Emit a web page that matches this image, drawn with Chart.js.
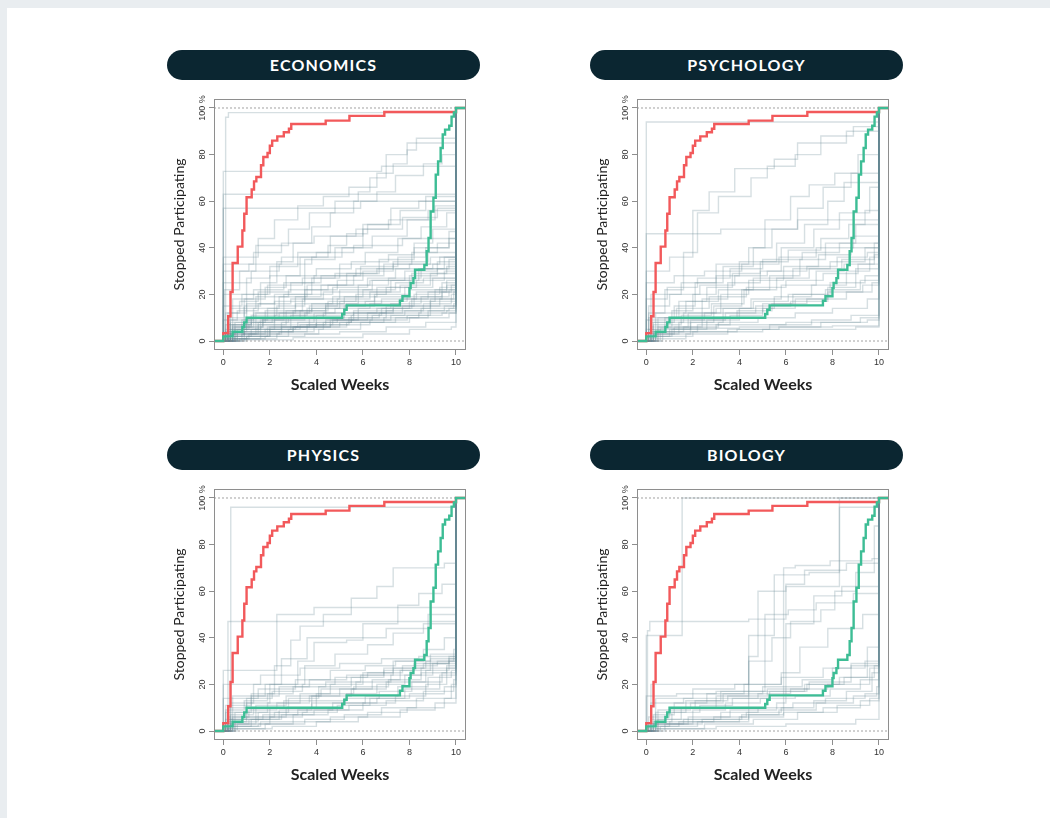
<!DOCTYPE html>
<html>
<head>
<meta charset="utf-8">
<script src="https://cdn.jsdelivr.net/npm/chart.js@4.4.0/dist/chart.umd.min.js"></script>
<style>
  html, body { margin: 0; padding: 0; width: 1050px; height: 818px; overflow: hidden; background: #e9edf0; }
  #card { position: absolute; left: 7px; top: 8px; width: 1043px; height: 810px; background: #fff; }
  .panel { position: absolute; width: 330px; height: 350px; }
  .pill { position: absolute; left: 7px; top: 0; width: 313px; height: 30px; border-radius: 15px;
          background: #0b2631; color: #fff; font: 700 16px Lato, sans-serif; letter-spacing: 1.2px;
          text-align: center; line-height: 30px; }
  .panel canvas { position: absolute; left: 0; top: 38px; }
</style>
</head>
<body>
<div id="card"></div>
<div id="charts"></div>
<script>
// Titres des panneaux
const subjects = ['ECONOMICS', 'PSYCHOLOGY', 'PHYSICS', 'BIOLOGY'];
const panelPos = [[160, 50], [583, 50], [160, 440], [583, 440]];

// Axes
const xTicks = [0, 2, 4, 6, 8, 10];
const yTicks = [0, 20, 40, 60, 80, 100];

// Courbe rouge (identique dans les 4 panneaux)
const redWeeks = [-0.4, 0, 0.21, 0.31, 0.4, 0.62, 0.82, 0.9, 1.0, 1.22, 1.32, 1.42, 1.62, 1.72, 1.9, 2.0, 2.1, 2.32, 2.6, 2.82, 2.92, 4.4, 5.42, 6.92, 10, 10.43];
const redPct = [0, 3.4, 10.6, 21, 33.5, 40.5, 47.4, 54.6, 61.7, 65, 68.5, 70.4, 75.4, 79, 80.7, 83.8, 86, 87.8, 89.6, 91.1, 93.1, 94.6, 96.6, 98.3, 100, 100];

// Courbe verte
const greenWeeks = [-0.4, 0, 0.4, 0.82, 0.9, 1.0, 5.11, 5.2, 5.3, 7.59, 7.7, 8.0, 8.05, 8.17, 8.24, 8.64, 8.74, 8.82, 8.91, 9.03, 9.13, 9.23, 9.34, 9.43, 9.53, 9.71, 9.81, 9.91, 10, 10.43];
const greenPct = [0, 2, 4, 6, 8, 10, 11.6, 13.4, 15.3, 17.3, 19.2, 22.7, 24.9, 27, 30.6, 32.6, 38.5, 44.2, 55.6, 61.5, 71.4, 77.1, 82.8, 88.6, 90.7, 92.4, 96.3, 98.1, 100, 100];

// Lignes grises : [semaine, %, semaine, %, ...] (chaque saut)
const econLines = [
  [0.1,96, 0.22,98],
  [0,63],
  [0,57, 5.9,60],
  [0,36, 1.5,44, 2.2,52, 3.2,58, 4.3,62, 5.4,66, 6.6,72, 7.3,76, 7.9,82, 8.3,87],
  [0.05,22, 0.7,30, 1.4,41, 2.8,48, 3.7,55, 4.8,60, 5.8,64, 6.3,70, 7.0,80, 7.9,85],
  [0.3,8, 0.9,15, 1.6,25, 2.3,34, 3.0,42, 3.8,49, 4.6,55, 5.6,60, 6.6,64, 7.4,71, 8.6,76, 9.4,80],
  [0,72.8, 6.8,75],
  [0.2,12, 1.0,20, 2.0,28, 3.3,36, 4.5,41, 5.3,46, 6.2,50, 7.6,56, 8.7,62],
  [0.4,6, 1.3,12, 2.6,20, 3.8,27, 5.0,33, 6.1,38, 7.5,44, 8.5,49, 9.6,55],
  [0.1,4, 0.8,9, 1.9,14, 3.1,19, 4.2,24, 5.6,28, 6.9,33, 8.1,38, 9.2,42],
  [0.6,3, 1.5,7, 2.9,11, 4.4,16, 5.8,21, 7.2,26, 8.4,31, 9.5,36],
  [0.2,2, 1.2,5, 2.5,8, 3.9,12, 5.2,15, 6.5,19, 7.8,23, 9.0,27],
  [0.3,5, 1.1,10, 2.2,17, 3.5,22, 4.9,26, 6.0,30, 7.3,34, 8.8,38],
  [0.1,1, 1.6,4, 3.0,6, 4.6,9, 6.2,12, 7.7,15, 9.3,18],
  [0.5,2, 2.0,4, 3.6,7, 5.4,10, 7.0,13, 8.6,16, 9.8,20],
  [0.2,10, 0.9,18, 1.8,23, 2.7,28, 4.0,31, 5.5,34, 7.1,37, 8.2,40, 9.7,47],
  [0,25, 1.2,30, 2.4,33, 3.8,36, 5.1,40, 6.4,45, 7.9,52, 9.1,58],
  [0.3,3, 0.9,6, 1.7,9, 2.6,12, 3.7,15, 4.9,18, 6.3,21, 7.6,24, 8.9,29],
  [0.7,1, 2.3,3, 4.1,5, 5.9,8, 7.4,10, 8.8,13, 9.7,14],
  [0.1,7, 1.4,12, 3.1,16, 4.7,19, 6.0,22, 7.4,25, 8.6,27],
  [0,15, 0.8,20, 1.9,24, 3.4,27, 4.8,29, 6.6,31, 8.0,33, 9.3,36],
  [0.4,4, 1.0,8, 2.1,10, 3.3,13, 4.5,17, 5.7,20, 7.0,23, 8.3,26, 9.5,30],
  [0.2,6, 1.7,10, 3.0,13, 4.4,15, 6.1,17, 7.9,19, 9.4,21],
  [1.0,2, 2.8,5, 4.3,8, 5.5,11, 6.8,14, 8.0,17, 9.1,22],
  [0.3,9, 1.3,14, 2.4,19, 3.6,24, 5.3,29, 6.7,35, 8.2,42, 9.0,48],
  [0.1,3, 0.6,5, 1.4,7, 2.7,9, 4.0,11, 5.6,13, 7.3,15, 8.9,17],
  [0,30, 1.1,33, 2.5,36, 4.0,38, 5.6,41, 7.7,44],
  [0.5,8, 1.8,13, 3.4,18, 5.0,22, 6.4,26, 7.8,30, 9.2,34],
  [0.2,1, 1.1,3, 2.4,4, 3.9,6, 5.3,8, 6.9,10, 8.4,12, 9.6,13],
  [0.1,12, 0.7,17, 1.5,21, 2.9,25, 4.2,28, 5.9,32, 7.5,36, 8.7,40, 9.7,44],
  [0.9,5, 2.2,9, 3.5,12, 4.8,14, 6.3,16, 7.6,18, 8.8,21, 9.8,24],
  [0.3,2, 1.9,6, 3.7,10, 5.2,12, 6.6,14, 8.1,18, 9.4,25],
  [0.2,5, 1.5,8, 2.8,10, 4.3,12, 5.8,14, 7.2,16, 8.5,19, 9.7,22],
  [0.4,18, 1.3,22, 2.6,25, 3.9,28, 5.7,31, 7.3,33, 8.9,36],
  [0,20, 1.0,27, 2.0,32, 3.2,38, 4.6,45, 6.0,50, 7.2,57, 8.4,60],
  [0.6,4, 1.6,6, 3.2,8, 4.9,10, 6.7,12, 8.5,14, 9.9,16],
  [0.1,2, 0.9,4, 2.0,5, 3.3,7, 4.7,9, 6.4,11, 7.8,13, 9.5,15],
  [0.2,7, 1.2,11, 2.3,15, 3.5,20, 4.7,23, 6.2,27, 7.4,31, 9.0,33],
  [0.8,3, 2.5,6, 4.0,9, 5.6,12, 7.0,15, 8.2,20, 9.3,23],
  [0.3,14, 1.4,19, 2.8,22, 4.5,24, 6.3,26, 8.1,29, 9.6,32],
  [0.05,0.5, 3.0,1.5, 6.0,3, 8.0,5, 9.8,6],
  [0.4,1, 1.8,2, 3.5,3, 5.0,4, 7.0,6, 8.7,8],
  [0.1,5, 1.0,16, 2.2,20, 3.5,35, 4.8,40, 6.0,48, 7.7,53, 9.2,57],
  [0.2,4, 2.0,6, 5.0,8, 8.0,10, 9.7,12],
  [0.1,3, 0.5,6, 1.2,8, 2.2,11, 3.6,14, 5.0,17, 6.5,20, 8.0,22, 9.6,26],
  [0.3,1, 1.0,2, 2.0,4, 3.0,6, 4.0,8, 5.5,9, 7.2,11, 8.9,15],
  [0,9, 0.6,13, 1.5,16, 2.9,18, 4.3,21, 5.8,24, 7.1,27, 8.5,31, 9.7,35],
  [0.2,3, 1.4,5, 2.9,7, 4.4,9, 5.8,12, 7.3,14, 8.9,18, 9.9,21],
  [0.5,5, 1.6,9, 2.7,13, 3.8,16, 5.2,19, 6.6,23, 8.0,28, 9.2,31],
  [0.1,2, 0.8,3, 1.8,5, 3.1,6, 4.6,7, 6.3,9, 7.9,11, 9.4,12],
  [0,33, 1.3,38, 2.5,42, 3.9,45, 5.7,48, 7.1,52, 8.8,56],
  [0.4,7, 1.2,10, 2.4,12, 3.8,14, 5.3,16, 6.8,18, 8.3,21, 9.6,24]
];

const psychLines = [
  [0,94],
  [0,46, 3.2,48, 6.5,52],
  [0,30, 1.0,36, 2.0,56, 2.7,64, 3.8,74, 5.5,78, 6.5,85, 8.6,90],
  [0.1,12, 0.8,22, 1.6,38, 2.2,55, 3.1,62, 4.5,70, 5.2,75, 6.4,80, 7.5,88, 8.9,92],
  [0.2,8, 1.2,15, 2.1,25, 3.3,32, 4.6,40, 5.1,52, 6.2,62, 7.0,67, 8.1,72, 9.1,80],
  [0,5, 0.8,10, 2.4,18, 3.5,25, 4.9,30, 5.8,40, 7.2,48, 8.3,55, 9.6,66],
  [0.3,3, 1.4,8, 2.9,15, 4.1,22, 5.3,28, 6.6,35, 7.7,42, 9.0,50],
  [0.1,2, 1.1,5, 2.6,9, 4.0,14, 5.5,19, 7.1,24, 8.6,30, 9.6,36],
  [0.5,6, 1.8,12, 3.2,20, 4.4,26, 5.9,32, 7.4,37, 8.8,40],
  [0,18, 0.9,23, 2.2,27, 3.6,31, 5.0,35, 6.7,38, 8.3,42],
  [0.2,4, 1.6,6, 3.1,8, 4.8,10, 6.4,12, 8.0,14, 9.5,18],
  [0.4,2, 2.0,4, 3.9,5, 5.7,6, 7.5,8, 9.2,10],
  [0.1,10, 1.3,14, 2.7,19, 4.3,23, 6.0,26, 7.6,29, 9.1,33],
  [0.6,5, 1.9,9, 3.4,12, 5.0,16, 6.3,20, 7.9,25, 9.4,28],
  [0,25, 1.2,28, 2.5,30, 4.1,33, 5.7,36, 7.3,40, 8.9,45],
  [0.3,7, 1.5,11, 2.8,16, 4.2,22, 5.6,27, 7.0,31, 8.4,35, 9.8,42],
  [0.2,1, 1.7,3, 3.5,5, 5.3,7, 7.1,9, 8.8,11],
  [0.1,15, 1.0,20, 2.3,24, 3.8,28, 5.2,30, 6.9,32, 8.2,36, 9.5,38],
  [0.4,3, 1.2,6, 2.4,10, 3.9,13, 5.4,16, 6.9,18, 8.6,21, 9.7,25],
  [0,9, 2.5,12, 4.7,15, 6.2,17, 7.8,21, 9.3,24],
  [0.7,4, 2.2,7, 3.6,11, 5.0,14, 6.4,18, 7.8,23, 9.0,31],
  [0.2,6, 1.1,13, 2.0,20, 3.0,28, 4.0,34, 5.6,42, 6.8,50, 7.8,60, 8.5,68],
  [0.1,5, 0.6,5.5, 4.0,6, 8.0,6.5],
  [0.3,4, 5.0,5, 9.0,6],
  [0.2,2, 1.0,5, 3.0,7, 6.0,8, 9.5,9],
  [0.5,10, 1.4,17, 2.6,23, 3.7,29, 4.9,34, 6.1,39, 7.5,44, 8.7,50, 9.4,56],
  [0.1,3, 1.9,8, 3.3,14, 4.5,18, 5.8,24, 7.3,30, 8.5,33, 9.8,37],
  [0.2,20, 1.5,25, 3.0,33, 4.4,40, 5.4,48, 6.5,57, 7.6,66, 8.8,72],
  [0.3,8, 1.6,12, 3.0,14, 4.6,17, 6.1,20, 7.7,22, 9.2,26],
  [0.4,12, 1.7,17, 3.1,22, 4.6,27, 6.3,31, 7.9,34, 9.4,40]
];

const physLines = [
  [0.32,96],
  [0.2,47],
  [0,26, 2.3,50, 3.9,53],
  [0.1,8, 1.2,16, 2.2,28, 2.9,39, 3.3,45, 4.3,50, 5.5,57, 6.6,62, 7.3,70, 9.5,72],
  [0.2,5, 1.0,12, 2.0,20, 3.2,30, 3.9,38, 5.3,39, 6.0,46, 7.5,54, 8.4,59, 9.4,63],
  [0.3,12, 1.3,20, 2.5,31, 3.6,40, 4.9,40, 7.0,44, 8.8,50],
  [0.1,3, 1.4,6, 2.7,10, 4.0,13, 5.3,16, 6.6,20, 7.8,24, 9.0,29],
  [0.4,2, 1.6,4, 3.0,7, 4.5,9, 6.0,12, 7.4,15, 8.7,20, 9.6,27],
  [0.2,6, 1.1,9, 2.3,12, 3.7,15, 5.0,18, 6.4,22, 7.6,26, 8.9,31],
  [0.1,1, 1.8,3, 3.5,5, 5.2,7, 6.8,10, 8.3,14, 9.8,20],
  [0.5,4, 1.5,8, 2.8,14, 4.1,19, 5.5,23, 6.9,26, 8.2,29, 9.7,32],
  [0.2,10, 1.0,14, 2.1,17, 3.4,20, 4.8,23, 6.2,25, 7.7,28, 9.2,30],
  [0.3,7, 1.3,10, 2.6,13, 4.0,16, 5.6,19, 7.1,22, 8.5,25, 9.6,28],
  [0.1,2, 1.2,5, 2.5,7, 3.9,9, 5.4,11, 7.0,13, 8.6,17, 9.9,22],
  [0.6,3, 2.0,6, 3.4,8, 4.9,11, 6.3,14, 7.8,18, 9.3,24],
  [0,14, 1.5,18, 3.1,22, 4.6,26, 6.1,28, 7.4,30, 8.9,33],
  [0.3,5, 1.7,7, 3.2,9, 4.7,12, 6.1,15, 7.5,19, 8.8,23, 9.8,26],
  [0.2,4, 1.0,6, 2.2,8, 3.6,10, 5.1,12, 6.6,14, 8.0,16, 9.5,19],
  [0.1,9, 0.9,13, 1.9,16, 3.0,19, 4.4,21, 5.9,24, 7.3,27, 8.7,30, 9.9,35],
  [0.4,6, 1.4,11, 2.7,15, 4.2,18, 5.7,21, 7.2,24, 8.5,27],
  [0.2,1, 2.1,2, 4.0,4, 5.8,6, 7.6,9, 9.1,12],
  [0,20, 1.6,24, 3.3,27, 5.0,29, 6.8,31, 8.4,32],
  [0.5,8, 1.9,12, 3.3,16, 4.6,20, 6.0,25, 7.3,30, 8.6,35, 9.5,40],
  [0.3,3, 1.1,5, 2.4,9, 3.8,12, 5.2,14, 6.7,17, 8.1,21, 9.4,25],
  [0.1,11, 1.2,15, 2.4,19, 3.7,22, 5.3,24, 6.9,27, 8.6,29, 9.7,31],
  [0.2,2, 1.5,3, 3.0,4, 4.6,6, 6.2,8, 7.9,10, 9.5,14],
  [0.4,15, 1.8,20, 3.5,28, 4.8,33, 6.2,37, 7.3,42, 8.6,46],
  [0.1,5, 2.0,10, 3.8,15, 5.5,18, 7.0,21, 8.7,26, 9.7,30]
];

const bioLines = [
  [0,41, 1.54,100],
  [0.05,43, 0.15,47, 4.4,48, 6.0,62, 8.3,100],
  [0.2,5, 1.5,10, 3.0,15, 4.4,32, 4.8,60, 6.0,63, 6.8,69, 8.6,72],
  [0.4,8, 1.7,13, 3.2,17, 5.1,50, 6.1,52, 7.3,55, 8.9,59],
  [0.3,3, 1.8,6, 3.6,9, 5.6,12, 6.0,46, 7.2,58, 8.4,62],
  [0.1,2, 1.4,4, 2.9,6, 4.3,8, 5.8,10, 7.2,13, 8.6,17, 9.7,25],
  [0.5,5, 2.0,9, 3.4,12, 4.9,14, 6.4,15, 7.9,18, 9.2,22],
  [0.2,1, 2.5,3, 4.6,5, 6.5,8, 8.2,11, 9.6,14],
  [0,15, 1.3,16, 3.0,17, 5.0,19, 6.7,22, 8.0,27, 9.4,30],
  [0.3,4, 1.1,8, 2.3,11, 3.7,14, 5.3,17, 6.8,20, 8.5,23, 9.8,28],
  [0.6,2, 2.2,4, 4.0,6, 5.9,8, 7.6,10, 9.2,13],
  [0.1,6, 1.0,10, 2.1,13, 3.5,15, 5.2,18, 7.0,21, 8.8,28],
  [0.4,1, 3.0,2, 6.0,3, 9.0,5],
  [0.2,12, 1.6,14, 3.3,16, 5.0,17, 6.9,20, 8.3,23, 9.5,36],
  [0.3,7, 1.2,12, 2.6,16, 4.2,20, 5.8,25, 6.6,36, 7.8,44, 9.3,50],
  [0.8,3, 2.4,5, 4.1,7, 5.7,9, 7.3,12, 8.9,15, 9.9,19],
  [0.1,3, 1.6,5, 3.2,8, 4.8,10, 6.3,12, 7.7,14, 9.4,16],
  [0.2,20, 4.4,30, 5.4,40, 6.2,47, 7.5,52, 8.1,60, 9.0,68, 9.8,88],
  [0.4,14, 2.0,18, 3.8,20, 5.8,23, 7.6,27, 8.8,29],
  [0.5,9, 1.9,12, 3.3,14, 4.8,16, 6.2,18, 7.8,20, 9.6,27],
  [0.1,3, 2.0,5, 4.4,7, 5.9,70, 6.4,71, 7.9,73, 9.7,74],
  [0.2,2, 1.0,4, 4.4,41, 5.5,67, 7.0,68, 8.3,96]
];

const panelLines = [econLines, psychLines, physLines, bioLines];

// Limites des axes (comme dans le graphique d'origine)
const X_MIN = -0.4, X_MAX = 10.43;
const Y_MIN = -3.86, Y_MAX = 103.86;

function toPoints(xs, ys) {
  return xs.map((x, i) => ({ x: x, y: ys[i] }));
}

// Chaque ligne grise part de 0 et finit à 100 % à la semaine 10
function grayPoints(flat) {
  const pts = [{ x: 0, y: 0 }];
  for (let i = 0; i < flat.length; i += 2) pts.push({ x: flat[i], y: flat[i + 1] });
  pts.push({ x: 10, y: 100 }, { x: X_MAX, y: 100 });
  return pts;
}

// Cadre autour de la zone de tracé + étiquettes de l'axe Y tournées
const framePlugin = {
  id: 'frame',
  afterDraw(chart) {
    const { ctx, chartArea: a, scales: { y } } = chart;
    ctx.save();
    ctx.strokeStyle = '#8e8e8e';
    ctx.lineWidth = 1;
    ctx.strokeRect(a.left + 0.5, a.top + 0.5, a.right - a.left - 1, a.bottom - a.top - 1);
    ctx.font = '9px "Liberation Sans", Arial, sans-serif';
    ctx.fillStyle = '#333';
    ctx.textAlign = 'center';
    ctx.textBaseline = 'middle';
    y.ticks.forEach(t => {
      const py = y.getPixelForValue(t.value);
      ctx.save();
      ctx.translate(a.left - 11, py);
      ctx.rotate(-Math.PI / 2);
      ctx.fillText(t.value === 100 ? '100 %' : String(t.value), 0, 0);
      ctx.restore();
    });
    ctx.restore();
  }
};

function buildPanel(idx) {
  const wrap = document.createElement('div');
  wrap.className = 'panel';
  wrap.style.left = panelPos[idx][0] + 'px';
  wrap.style.top = panelPos[idx][1] + 'px';
  const pill = document.createElement('div');
  pill.className = 'pill';
  pill.textContent = subjects[idx];
  wrap.appendChild(pill);
  const canvas = document.createElement('canvas');
  canvas.width = 320;
  canvas.height = 310;
  wrap.appendChild(canvas);
  document.getElementById('charts').appendChild(wrap);

  const line = { pointRadius: 0, fill: false, stepped: 'before' };
  // le vert passe devant le rouge, comme sur l'original
  const datasets = [
    Object.assign({ data: toPoints(greenWeeks, greenPct), borderColor: '#3dbd95', borderWidth: 2.4 }, line),
    Object.assign({ data: toPoints(redWeeks, redPct), borderColor: '#f2595b', borderWidth: 2.4 }, line),
    { data: [{ x: X_MIN, y: 100 }, { x: X_MAX, y: 100 }], borderColor: '#8a8a8a', borderWidth: 0.8, borderDash: [2, 2], pointRadius: 0 },
    { data: [{ x: X_MIN, y: 0 }, { x: X_MAX, y: 0 }], borderColor: '#8a8a8a', borderWidth: 0.8, borderDash: [2, 2], pointRadius: 0 }
  ];
  panelLines[idx].forEach(l => {
    datasets.push(Object.assign({ data: grayPoints(l), borderColor: 'rgba(105,135,148,0.27)', borderWidth: 1.4 }, line));
  });

  new Chart(canvas, {
    type: 'line',
    data: { datasets: datasets },
    options: {
      responsive: false,
      animation: false,
      events: [],
      layout: { padding: { top: 11, right: 14, left: 0, bottom: 0 } },
      plugins: { legend: { display: false }, tooltip: { enabled: false } },
      scales: {
        x: {
          type: 'linear',
          min: X_MIN,
          max: X_MAX,
          afterBuildTicks: s => { s.ticks = xTicks.map(v => ({ value: v })); },
          afterFit: s => { s.height = 48; },
          border: { display: false },
          grid: { drawOnChartArea: false, drawTicks: true, tickLength: 5, color: '#8e8e8e' },
          ticks: { font: { family: 'Liberation Sans', size: 9 }, color: '#333', padding: 2, maxRotation: 0 },
          title: { display: true, text: 'Scaled Weeks', color: '#222', font: { family: 'Lato', size: 16, weight: 'bold' }, padding: { top: 3 } }
        },
        y: {
          type: 'linear',
          min: Y_MIN,
          max: Y_MAX,
          afterBuildTicks: s => { s.ticks = yTicks.map(v => ({ value: v })); },
          afterFit: s => { s.width = 54; },
          border: { display: false },
          grid: { drawOnChartArea: false, drawTicks: true, tickLength: 5, color: '#8e8e8e' },
          ticks: { display: false },
          title: { display: true, text: 'Stopped Participating', color: '#222', font: { family: 'Lato', size: 14 }, padding: { top: 11 } }
        }
      }
    },
    plugins: [framePlugin]
  });
}

subjects.forEach((s, i) => buildPanel(i));
</script>
</body>
</html>
